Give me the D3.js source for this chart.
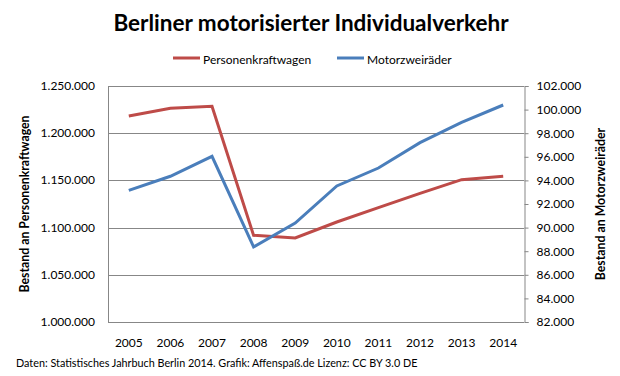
<!DOCTYPE html>
<html>
<head>
<meta charset="utf-8">
<script src="https://cdn.jsdelivr.net/npm/d3@7"></script>
<style>
  body { margin: 0; background: #fff; }
  svg text { font-family: Lato, "Open Sans", sans-serif; fill: #000; }
</style>
</head>
<body>
<div id="chart"></div>
<script>
// data
const years = ["2005","2006","2007","2008","2009","2010","2011","2012","2013","2014"];
const pkw = [1218200, 1226400, 1228500, 1091800, 1089000, 1105900, 1121100, 1136300, 1150800, 1154300];
const krad = [93160, 94350, 96040, 88360, 90390, 93530, 95050, 97200, 98920, 100390];
const leftTicks = [1000000, 1050000, 1100000, 1150000, 1200000, 1250000];
const rightTicks = [82000, 84000, 86000, 88000, 90000, 92000, 94000, 96000, 98000, 100000, 102000];

const width = 620, height = 376;
const plot = { left: 108, right: 524, top: 86, bottom: 322 };
const red = "#BE4B48", blue = "#4A7EBB", gridColor = "#878787";

const fmt = d3.formatLocale({ decimal: ",", thousands: ".", grouping: [3], currency: ["", "€"] }).format(",d");

const svg = d3.select("#chart").append("svg")
    .attr("width", width)
    .attr("height", height);

const x = d3.scaleBand().domain(years).range([plot.left, plot.right]);
const yL = d3.scaleLinear().domain([1000000, 1250000]).range([plot.bottom, plot.top]);
const yR = d3.scaleLinear().domain([82000, 102000]).range([plot.bottom, plot.top]);

// gridlines
svg.append("g")
    .selectAll("line")
    .data(leftTicks)
    .join("line")
    .attr("x1", plot.left).attr("x2", plot.right)
    .attr("y1", d => Math.round(yL(d)) + 0.5).attr("y2", d => Math.round(yL(d)) + 0.5)
    .attr("stroke", gridColor);

// left axis line + labels
svg.append("line")
    .attr("x1", plot.left + 0.5).attr("x2", plot.left + 0.5)
    .attr("y1", plot.top).attr("y2", plot.bottom + 0.5)
    .attr("stroke", gridColor);

svg.append("g")
    .selectAll("text")
    .data(leftTicks)
    .join("text")
    .attr("x", 95)
    .attr("y", d => yL(d) + 4)
    .attr("text-anchor", "end")
    .attr("font-size", 12)
    .text(d => fmt(d));

// right axis
const rightAxis = svg.append("g")
    .attr("transform", `translate(${plot.right + 0.5},0)`)
    .call(d3.axisRight(yR).tickValues(rightTicks).tickSize(4).tickPadding(8).tickFormat(fmt));
rightAxis.select(".domain").attr("stroke", gridColor);
rightAxis.selectAll(".tick line").attr("stroke", gridColor);
rightAxis.selectAll(".tick text")
    .attr("font-size", 12)
    .attr("font-family", "Lato, 'Open Sans', sans-serif")
    .attr("fill", "#000");

// x labels
svg.append("g")
    .selectAll("text")
    .data(years)
    .join("text")
    .attr("x", d => x(d) + x.bandwidth() / 2)
    .attr("y", 347)
    .attr("text-anchor", "middle")
    .attr("font-size", 12)
    .text(d => d);

// lines
const lineL = d3.line().x((d, i) => x(years[i]) + x.bandwidth() / 2).y(d => yL(d));
const lineR = d3.line().x((d, i) => x(years[i]) + x.bandwidth() / 2).y(d => yR(d));

svg.append("path")
    .datum(pkw)
    .attr("d", lineL)
    .attr("fill", "none")
    .attr("stroke", red)
    .attr("stroke-width", 3);

svg.append("path")
    .datum(krad)
    .attr("d", lineR)
    .attr("fill", "none")
    .attr("stroke", blue)
    .attr("stroke-width", 3);

// title
svg.append("text")
    .attr("x", 311)
    .attr("y", 31)
    .attr("text-anchor", "middle")
    .attr("font-size", 22.5)
    .attr("font-weight", "bold")
    .text("Berliner motorisierter Individualverkehr");

// legend
const legend = [
    { name: "Personenkraftwagen", color: red, x: 173 },
    { name: "Motorzweiräder", color: blue, x: 337 }
];
const lg = svg.append("g").selectAll("g").data(legend).join("g")
    .attr("transform", d => `translate(${d.x},58)`);
lg.append("line")
    .attr("x1", 0).attr("x2", 27)
    .attr("stroke", d => d.color)
    .attr("stroke-width", 3);
lg.append("text")
    .attr("x", 30)
    .attr("y", 6)
    .attr("font-size", 12)
    .text(d => d.name);

// axis titles
svg.append("text")
    .attr("transform", "translate(29,204) rotate(-90)")
    .attr("text-anchor", "middle")
    .attr("font-size", 12.3)
    .attr("font-weight", "bold")
    .text("Bestand an Personenkraftwagen");

svg.append("text")
    .attr("transform", "translate(605,204) rotate(-90)")
    .attr("text-anchor", "middle")
    .attr("font-size", 12.3)
    .attr("font-weight", "bold")
    .text("Bestand an Motorzweiräder");

// footer
svg.append("text")
    .attr("x", 16)
    .attr("y", 367)
    .attr("font-size", 10.8)
    .text("Daten:  Statistisches Jahrbuch Berlin 2014. Grafik: Affenspaß.de Lizenz: CC BY 3.0 DE");
</script>
</body>
</html>
